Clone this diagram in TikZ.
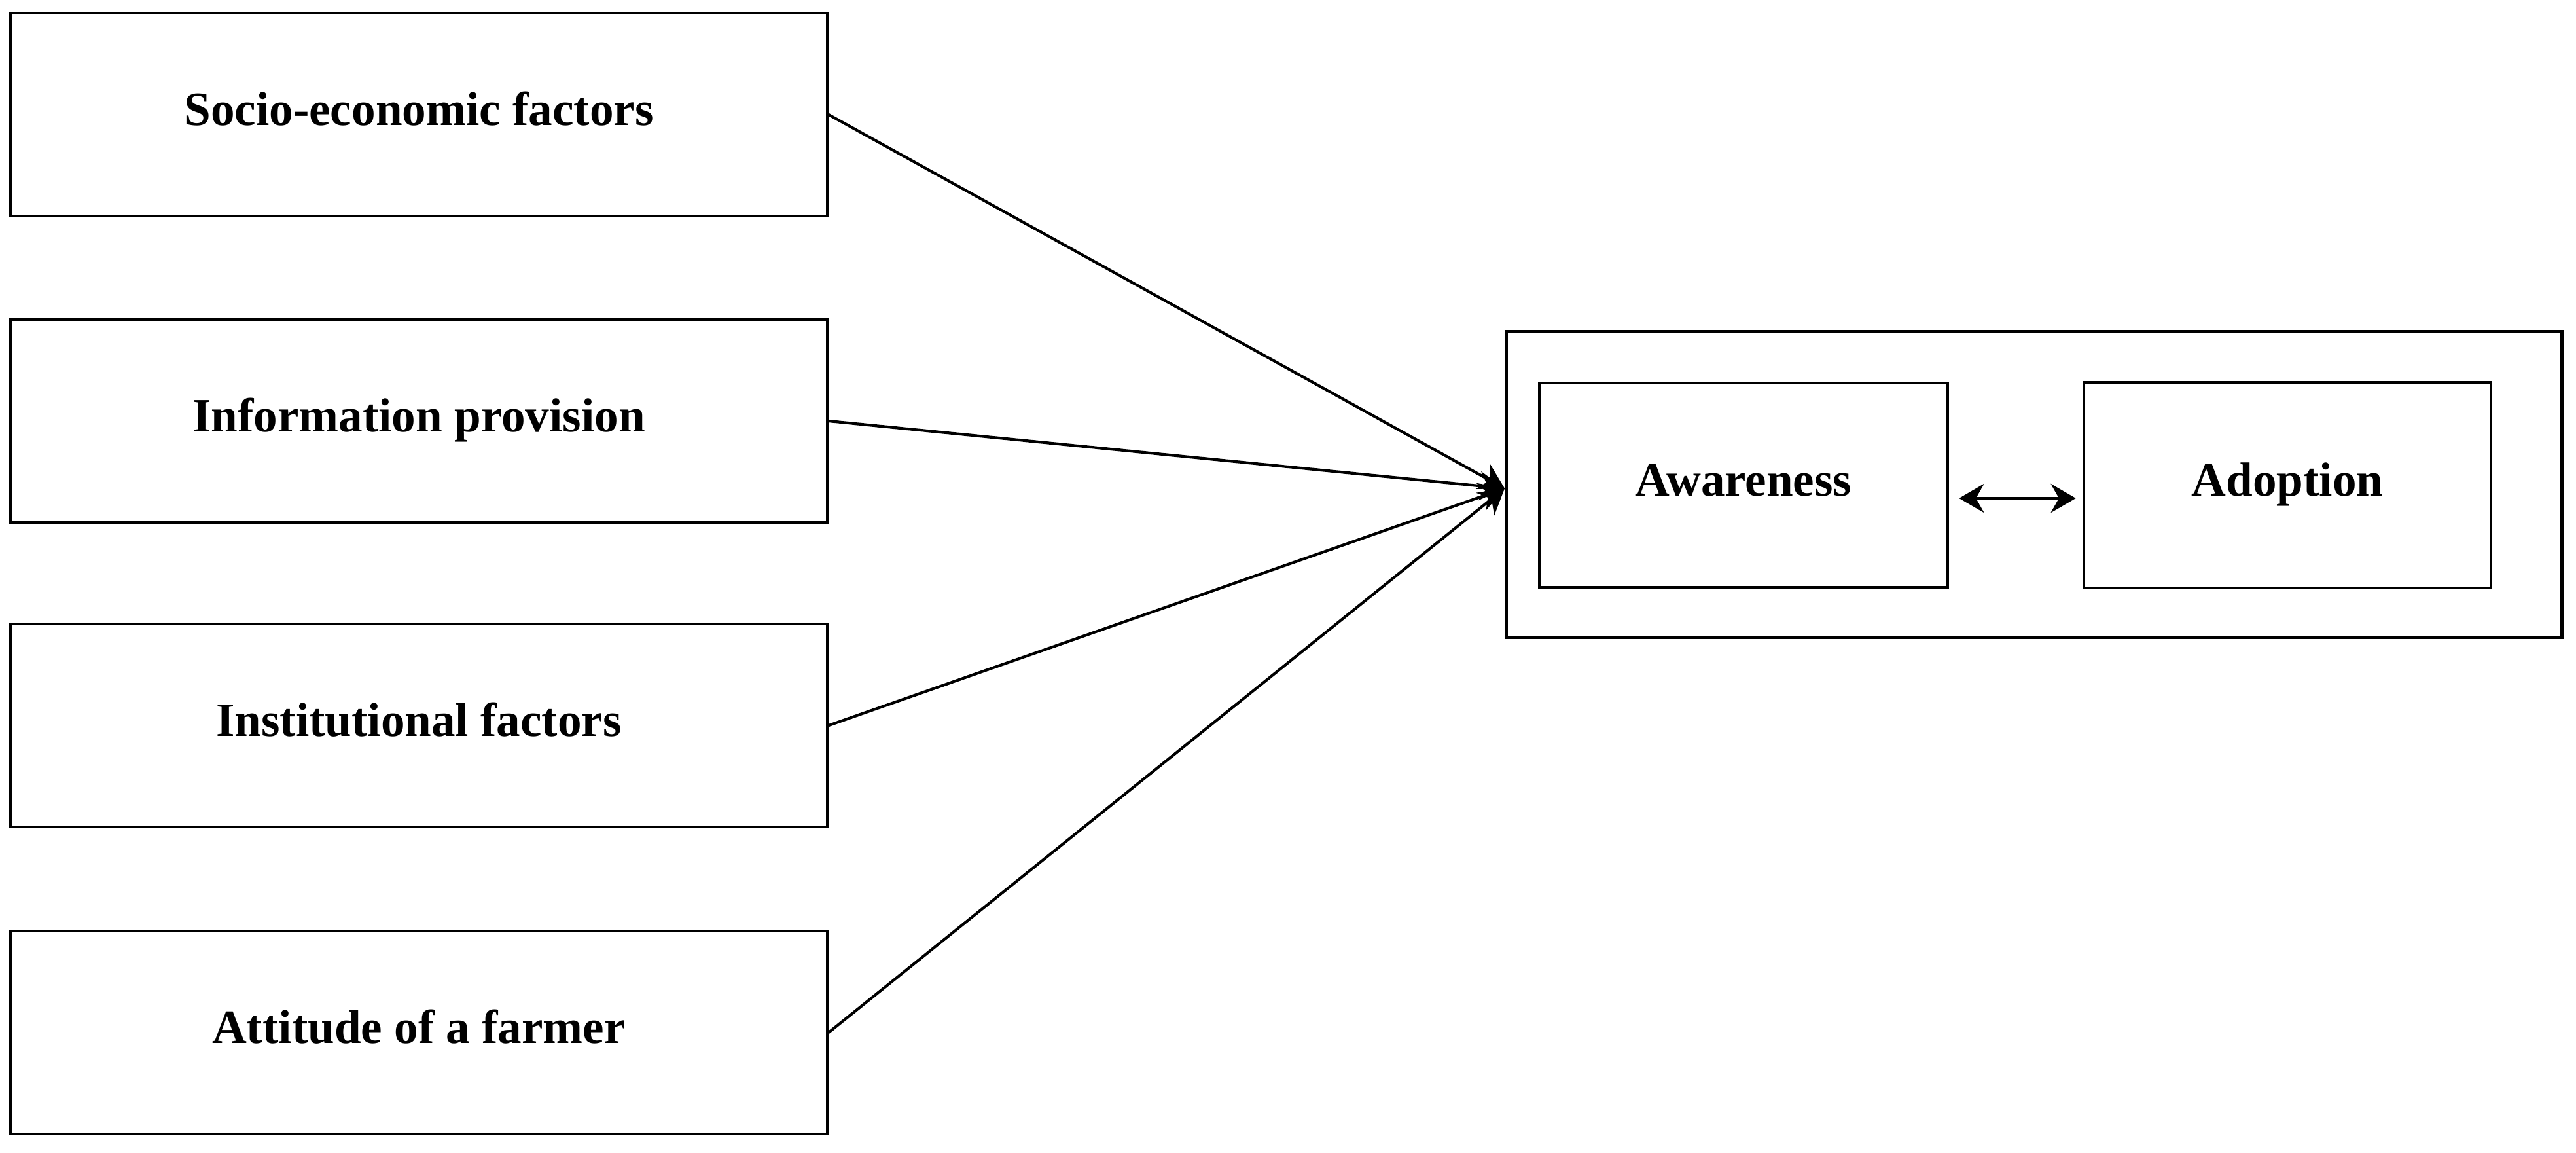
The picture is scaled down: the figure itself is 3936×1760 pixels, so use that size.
\documentclass[tikz,border=0pt]{standalone}
\usepackage{fontspec}
\setmainfont{Liberation Serif}
\usetikzlibrary{arrows.meta}
\begin{document}
\begin{tikzpicture}[x=0.01cm,y=-0.01cm,
  box/.style={draw=black,line width=1.25pt,inner sep=0pt,align=center,
    text height=14pt,text depth=4.5pt,
    font=\fontsize{20.8pt}{25pt}\selectfont\bfseries},
  conn/.style={line width=1.2pt,-{Stealth[length=0.38cm,width=0.44cm]}},
  dconn/.style={line width=1.2pt,{Stealth[length=0.38cm,width=0.44cm]}-{Stealth[length=0.38cm,width=0.44cm]}}]
\useasboundingbox (0,0) rectangle (3936,1760);
\node[box,minimum width=12.47cm,minimum height=3.10cm] (se) at (640,175) {Socio-economic factors};
\node[box,minimum width=12.47cm,minimum height=3.10cm] (ip) at (640,643) {Information provision};
\node[box,minimum width=12.47cm,minimum height=3.10cm] (if) at (640,1108) {Institutional factors};
\node[box,minimum width=12.47cm,minimum height=3.10cm] (af) at (640,1577) {Attitude of a farmer};
\node[box,minimum width=16.12cm,minimum height=4.67cm] (outer) at (3108,740) {};
\node[box,minimum width=6.24cm,minimum height=3.12cm] (aw) at (2664,741) {Awareness};
\node[box,minimum width=6.22cm,minimum height=3.14cm] (ad) at (3495,741) {Adoption};
\coordinate (hub) at (2299,746);
\draw[conn] (se.east) -- (hub);
\draw[conn] (ip.east) -- (hub);
\draw[conn] (if.east) -- (hub);
\draw[conn] (af.east) -- (hub);
\draw[dconn,shorten <=0.15cm,shorten >=0.1cm] ([yshift=-0.2cm]aw.east) -- ([yshift=-0.2cm]ad.west);
\end{tikzpicture}
\end{document}
